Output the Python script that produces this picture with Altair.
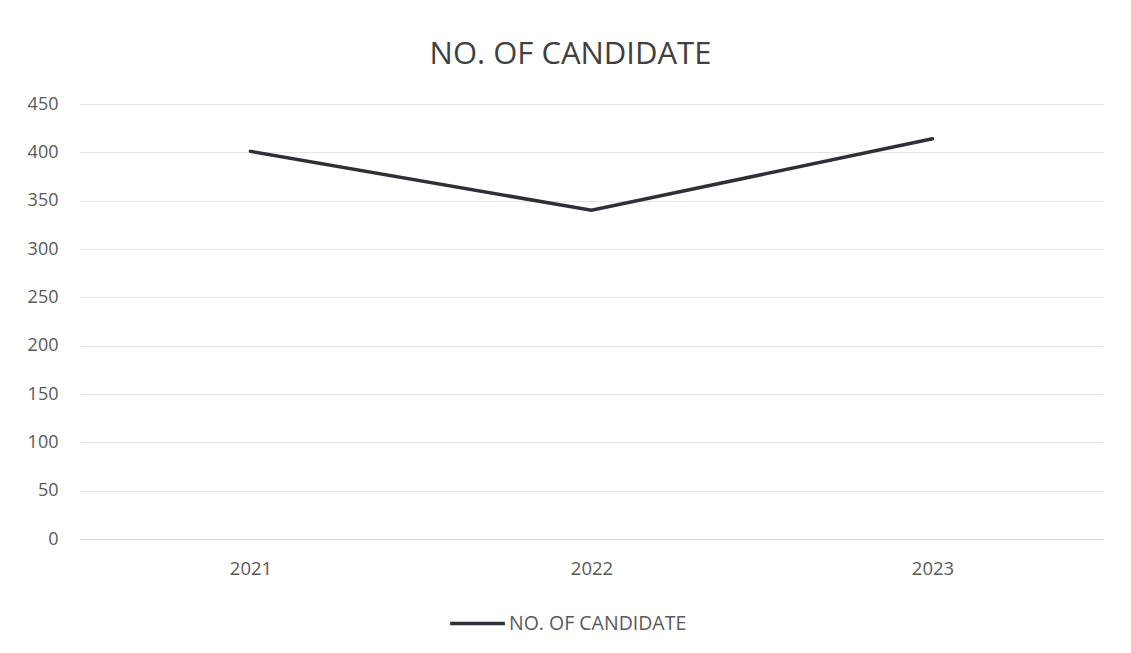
import altair as alt
import pandas as pd

years = ["2021", "2022", "2023"]
candidates = [401, 340, 414]
series = ["NO. OF CANDIDATE"] * 3

df = pd.DataFrame({"Year": years, "Candidates": candidates, "Series": series})

FONT = "Open Sans"

chart = alt.Chart(df).mark_line(strokeWidth=3.5, strokeCap="round").encode(
    x=alt.X("Year:N", sort=years,
            scale=alt.Scale(paddingOuter=0.5, paddingInner=0),
            axis=alt.Axis(title=None, labelAngle=0, ticks=False, grid=False,
                          domainColor="#d9d9d9", domainWidth=1,
                          labelPadding=20, labelFontSize=18.5, labelColor="#595959",
                          labelFont=FONT)),
    y=alt.Y("Candidates:Q", scale=alt.Scale(domain=[0, 450], nice=False),
            axis=alt.Axis(title=None, values=list(range(0, 451, 50)), ticks=False,
                          domain=False, gridColor="#e3e3e3", gridWidth=1,
                          labelPadding=22, labelFontSize=18, labelColor="#595959",
                          labelFont=FONT)),
    color=alt.Color("Series:N", scale=alt.Scale(range=["#2f2f3a"]),
                    legend=alt.Legend(title=None, orient="none", legendX=368, legendY=490,
                                      symbolType="stroke", symbolSize=3000, symbolStrokeWidth=3.5,
                                      labelFontSize=19.5, labelColor="#595959", labelFont=FONT,
                                      labelLimit=400, symbolOffset=0, labelOffset=2)),
).properties(
    width=1023, height=435,
    background="white",
    title=alt.TitleParams("NO. OF CANDIDATE", fontSize=31, font=FONT, fontWeight="normal",
                          color="#404040", anchor="middle", offset=24, dx=-21),
    autosize=alt.AutoSizeParams(type="none"),
    padding={"left": 80, "top": 104, "right": 28, "bottom": 114},
).configure_view(strokeWidth=0, stroke=None)

chart.save("out.html", embed_options={"renderer": "svg", "actions": False})
